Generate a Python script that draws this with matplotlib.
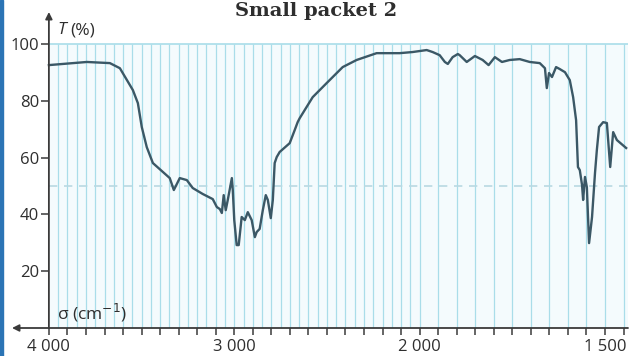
import numpy as np
import matplotlib
matplotlib.use("Agg")
import matplotlib.pyplot as plt
from matplotlib.patches import Rectangle
from matplotlib.ticker import FixedLocator

# wavenumber (cm-1) and transmittance (%)
sigma = [4000, 3795, 3671, 3617, 3547, 3520, 3499, 3472, 3439, 3348, 3326, 3294,
         3256, 3224, 3170, 3116, 3094, 3078, 3067, 3057, 3046, 3035, 3013, 3008,
         3000, 2987, 2976, 2960, 2943, 2927, 2906, 2889, 2879, 2863, 2846, 2830,
         2819, 2803, 2792, 2782, 2771, 2755, 2701, 2674, 2658, 2647, 2577, 2501,
         2415, 2340, 2232, 2108, 2038, 1981, 1965, 1946, 1932, 1924, 1911, 1897,
         1892, 1873, 1851, 1830, 1814, 1797, 1778, 1757, 1730, 1703, 1676, 1662,
         1657, 1651, 1643, 1632, 1622, 1608, 1595, 1586, 1578, 1573, 1568, 1562,
         1559, 1554, 1549, 1543, 1535, 1527, 1522, 1516, 1505, 1495, 1486, 1478,
         1468, 1443]
trans = [92.6, 93.7, 93.3, 91.5, 83.8, 79.2, 70.8, 63.7, 58.1, 52.8, 48.6, 52.8,
         52.1, 49.3, 47.2, 45.4, 42.6, 41.9, 40.5, 46.8, 41.5, 45.1, 52.8, 48.6,
         38.0, 29.2, 29.2, 39.1, 38.0, 40.8, 38.0, 32.0, 33.8, 34.9, 41.5, 46.8,
         45.1, 38.7, 45.1, 58.1, 60.2, 62.0, 65.1, 69.7, 72.5, 73.9, 81.3, 86.3,
         91.9, 94.4, 96.8, 96.8, 97.2, 97.9, 97.2, 96.1, 93.7, 93.0, 95.4, 96.5,
         96.1, 93.7, 95.8, 94.4, 92.6, 95.4, 93.7, 94.4, 94.7, 93.7, 93.3, 91.5,
         84.5, 89.8, 88.4, 91.9, 91.2, 90.1, 87.3, 81.3, 73.2, 56.7, 55.6, 50.4,
         45.1, 53.2, 49.6, 29.9, 39.1, 54.6, 62.7, 70.8, 72.5, 72.2, 56.7, 69.0,
         66.2, 63.4]

x_labelled = [4000, 3000, 2000, 1500]
x_labels = ["4 000", "3 000", "2 000", "1 500"]
y_ticks = [20, 40, 60, 80, 100]


# IR scale: compressed above 2000 cm-1, stretched x2 below
def fwd(s):
    s = np.asarray(s, dtype=float)
    return np.where(s >= 2000, s - 4000, 2 * s - 6000)


def inv(u):
    u = np.asarray(u, dtype=float)
    return np.where(u >= -2000, u + 4000, (u + 6000) / 2)


plt.rcParams["font.family"] = ["Open Sans", "DejaVu Sans"]
ink = "#3a3a3a"
txt = "#2e2e2e"
grid_c = "#a9dde9"

fig = plt.figure(figsize=(6.3, 3.56), dpi=100)
ax = fig.add_axes([12 / 630, 28 / 356, 616 / 630, 316 / 356])
ax.set_xscale("function", functions=(fwd, inv))
ax.set_xlim(4199, 1438)
ax.set_ylim(0, 111.3)

grid_x = np.arange(1450, 4000, 50)
ax.fill_between([4000, 1438], 0, 100, color="#f4fbfd", lw=0, zorder=0)
ax.vlines(grid_x, 0, 100, color=grid_c, lw=0.9, zorder=1)
ax.hlines(100, 4000, 1438, color=grid_c, lw=1.2, zorder=1)
ax.hlines(50, 4000, 1438, color="#b9d9e2", lw=1.2, linestyles=(0, (5, 4)), zorder=1)

ax.plot(sigma, trans, color="#3b5866", lw=1.7, zorder=3,
        solid_joinstyle="round")

for s in ax.spines.values():
    s.set_visible(False)
ax.spines["left"].set_position(("data", 4000))

# axes lines with arrow heads
ax.annotate("", xy=(4000, 111.3), xytext=(4000, 0),
            arrowprops=dict(arrowstyle="-|>", color=ink, lw=1.3,
                            mutation_scale=10, shrinkA=0, shrinkB=0),
            annotation_clip=False, zorder=4)
ax.annotate("", xy=(4199, 0), xytext=(1438, 0),
            arrowprops=dict(arrowstyle="-|>", color=ink, lw=1.3,
                            mutation_scale=10, shrinkA=0, shrinkB=0),
            annotation_clip=False, zorder=4)

ax.xaxis.set_major_locator(FixedLocator(x_labelled))
ax.set_xticklabels(x_labels)
minor_x = list(range(2100, 4000, 100)) + list(range(1450, 2000, 50))
ax.xaxis.set_minor_locator(FixedLocator(minor_x))
ax.tick_params(axis="x", which="both", direction="out", length=5, width=1.1,
               color=ink, labelsize=12, labelcolor=txt, pad=3)

ax.set_yticks(y_ticks)
ax.tick_params(axis="y", direction="out", length=6, width=1.1, color=ink,
               labelsize=12, labelcolor=txt, pad=1)

ax.text(3955, 104.8, "T", style="italic", fontsize=12.5, color=txt,
        va="center", ha="left")
ax.text(3885, 104.8, "(%)", fontsize=12.5, color=txt, va="center", ha="left")
ax.text(3955, 1.5, "σ (cm$^{-1}$)", fontsize=12.5, color=txt,
        va="bottom", ha="left")

fig.text(316 / 630, (356 - 16) / 356, "Small packet 2", family="DejaVu Serif",
         fontweight="bold", fontsize=14, color=txt, ha="center",
         va="baseline")

fig.patches.append(Rectangle((0, 0), 3 / 630, 1, transform=fig.transFigure,
                             color="#2b74b5", zorder=5))

fig.savefig("out.png", dpi=100)
